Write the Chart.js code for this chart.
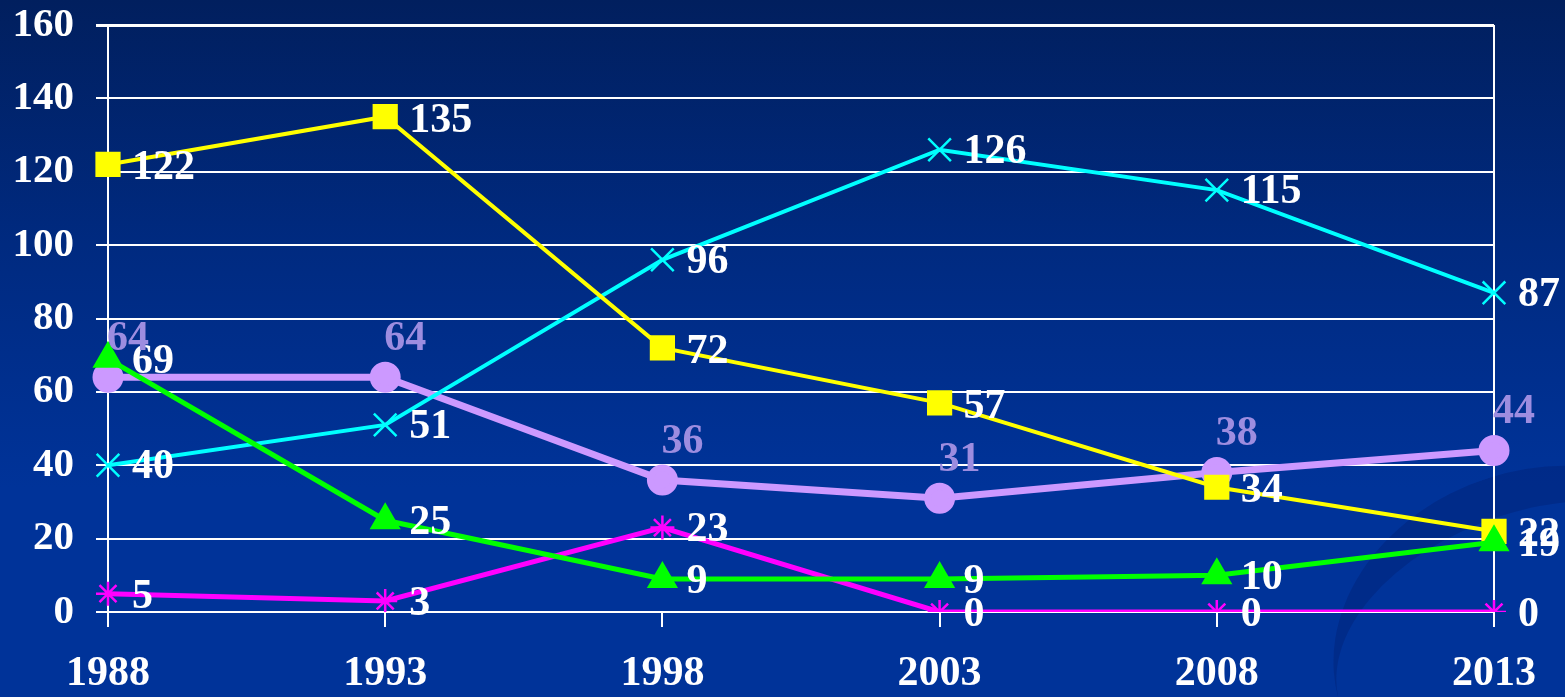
<!DOCTYPE html>
<html>
<head>
<meta charset="utf-8">
<script src="https://cdn.jsdelivr.net/npm/chart.js@4.4.1/dist/chart.umd.min.js"></script>
<style>
    html, body {
        margin: 0;
        padding: 0;
    }
    body {
        width: 1565px;
        height: 697px;
        overflow: hidden;
        background: linear-gradient(to bottom, #011f5e 0%, #002a80 35%, #003399 70%, #003399 100%);
    }
    #wrap {
        position: relative;
        width: 1565px;
        height: 697px;
    }
    /* faint swoosh in the lower right corner */
    #swoosh {
        position: absolute;
        left: 1330px;
        top: 470px;
        width: 420px;
        height: 300px;
        border-radius: 50%;
        border-top: 40px solid rgba(0, 30, 110, 0.35);
        transform: rotate(-18deg);
    }
    canvas {
        position: relative;
    }
</style>
</head>
<body>
<div id="wrap"><div id="swoosh"></div><canvas id="lineChart"></canvas></div>
<script>
// data
const years = ['1988', '1993', '1998', '2003', '2008', '2013'];
const yellowValues = [122, 135, 72, 57, 34, 22];
const cyanValues = [40, 51, 96, 126, 115, 87];
const lavenderValues = [64, 64, 36, 31, 38, 44];
const greenValues = [69, 25, 9, 9, 10, 19];
const magentaValues = [5, 3, 23, 0, 0, 0];
const yTicks = [0, 20, 40, 60, 80, 100, 120, 140, 160];

const serif = "'Liberation Serif', 'Times New Roman', serif";

// draws the number next to every point
const valueLabels = {
    id: 'valueLabels',
    afterDatasetsDraw(chart) {
        const ctx = chart.ctx;
        ctx.save();
        ctx.font = 'bold 42px ' + serif;
        chart.data.datasets.forEach((ds, i) => {
            const meta = chart.getDatasetMeta(i);
            meta.data.forEach((pt, j) => {
                ctx.fillStyle = ds.labelColor;
                ctx.textAlign = ds.labelAlign;
                ctx.textBaseline = 'middle';
                ctx.fillText(String(ds.data[j]), pt.x + ds.labelDx, pt.y + ds.labelDy);
            });
        });
        ctx.restore();
    }
};

const ctx = document.getElementById('lineChart').getContext('2d');

const lineChart = new Chart(ctx, {
    type: 'line',
    data: {
        labels: years,
        datasets: [{
            label: 'green',
            data: greenValues,
            borderColor: '#00ff00',
            backgroundColor: '#00ff00',
            borderWidth: 5,
            pointStyle: 'triangle',
            pointRadius: 13,
            labelColor: '#ffffff', labelAlign: 'left', labelDx: 24, labelDy: 3
        }, {
            label: 'yellow',
            data: yellowValues,
            borderColor: '#ffff00',
            backgroundColor: '#ffff00',
            borderWidth: 4,
            pointStyle: 'rect',
            pointRadius: 15,
            labelColor: '#ffffff', labelAlign: 'left', labelDx: 24, labelDy: 4
        }, {
            label: 'magenta',
            data: magentaValues,
            borderColor: '#ff00ff',
            backgroundColor: '#ff00ff',
            borderWidth: 5,
            pointStyle: 'star',
            pointRadius: 12,
            pointBorderWidth: 2.5,
            labelColor: '#ffffff', labelAlign: 'left', labelDx: 24, labelDy: 3
        }, {
            label: 'cyan',
            data: cyanValues,
            borderColor: '#00ffff',
            backgroundColor: '#00ffff',
            borderWidth: 4,
            pointStyle: 'crossRot',
            pointRadius: 16,
            pointBorderWidth: 2.5,
            labelColor: '#ffffff', labelAlign: 'left', labelDx: 24, labelDy: 2
        }, {
            label: 'lavender',
            data: lavenderValues,
            borderColor: '#cc99ff',
            backgroundColor: '#cc99ff',
            borderWidth: 7,
            pointStyle: 'circle',
            pointRadius: 12,
            labelColor: '#9d8de0', labelAlign: 'center', labelDx: 20, labelDy: -38
        }]
    },
    options: {
        responsive: true,
        maintainAspectRatio: false,
        animation: false,
        layout: {
            padding: { top: 25, right: 71, left: 0, bottom: 0 }
        },
        plugins: {
            legend: { display: false },
            tooltip: { enabled: false }
        },
        elements: {
            line: { tension: 0 }
        },
        scales: {
            x: {
                offset: false,
                grid: {
                    color: (c) => (c.index === 0 || c.index === years.length - 1) ? '#ffffff' : 'rgba(0,0,0,0)',
                    tickColor: '#ffffff',
                    lineWidth: 2,
                    tickLength: 15
                },
                border: { display: false },
                ticks: {
                    color: '#ffffff',
                    padding: 22,
                    maxRotation: 0,
                    font: { family: serif, size: 42, weight: 'bold' }
                },
                afterFit: (scale) => {
                    scale.height = 85;
                    scale.paddingLeft = 0;
                    scale.paddingRight = 0;
                }
            },
            y: {
                min: 0,
                max: 160,
                afterBuildTicks: (scale) => { scale.ticks = yTicks.map(v => ({ value: v })); },
                grid: {
                    color: '#ffffff',
                    lineWidth: (c) => c.tick && c.tick.value === 160 ? 3 : 2,
                    tickLength: 12
                },
                border: { display: true, color: '#ffffff', width: 2 },
                ticks: {
                    color: '#ffffff',
                    padding: 22,
                    font: { family: serif, size: 41, weight: 'bold' }
                },
                afterFit: (scale) => {
                    scale.width = 108;
                    scale.paddingTop = 0;
                    scale.paddingBottom = 0;
                }
            }
        }
    },
    plugins: [valueLabels]
});
</script>
</body>
</html>
